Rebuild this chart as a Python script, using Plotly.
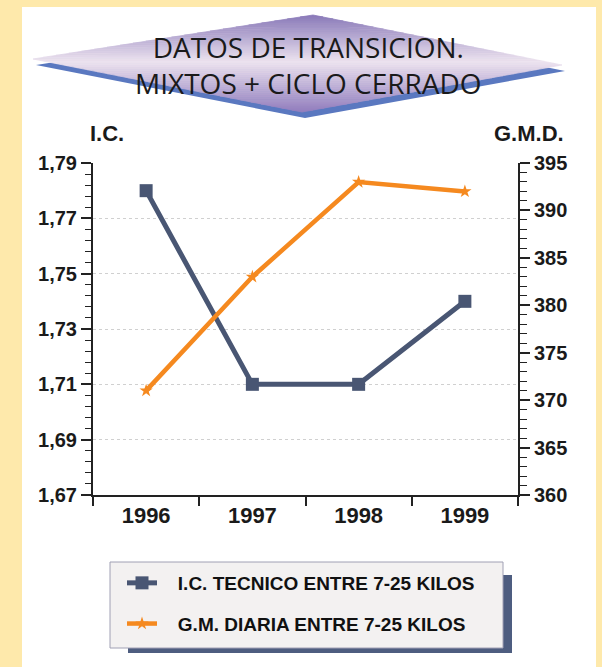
import plotly.graph_objects as go

# ---------------- data ----------------
YEARS = ["1996", "1997", "1998", "1999"]
IC_TECNICO = [1.78, 1.71, 1.71, 1.74]
GM_DIARIA = [371, 383, 393, 392]
IC_TICKS = [1.67, 1.69, 1.71, 1.73, 1.75, 1.77, 1.79]
IC_TICK_LABELS = ["1,67", "1,69", "1,71", "1,73", "1,75", "1,77", "1,79"]
GMD_TICKS = [360, 365, 370, 375, 380, 385, 390, 395]
SERIES_NAMES = ["I.C. TECNICO ENTRE 7-25 KILOS", "G.M. DIARIA ENTRE 7-25 KILOS"]
TITLE_LINES = ["DATOS DE TRANSICION.", "MIXTOS + CICLO CERRADO"]

# ---------------- layout geometry (pixels) ----------------
W, H = 602, 667
L, R, T, B = 93, 518, 163, 495
PW, PH = R - L, B - T


def X(px):
    return (px - L) / PW


def Y(py):
    return (B - py) / PH


def path(points):
    return "M " + " L ".join(f"{X(x):.5f},{Y(y):.5f}" for x, y in points) + " Z"


def clip(poly, ymin, ymax):
    def clip_half(pts, keep, ylim):
        out = []
        n = len(pts)
        for i in range(n):
            p, q = pts[i], pts[(i + 1) % n]
            pin, qin = keep(p[1]), keep(q[1])
            if pin:
                out.append(p)
            if pin != qin:
                t = (ylim - p[1]) / (q[1] - p[1])
                out.append((p[0] + t * (q[0] - p[0]), ylim))
        return out
    pts = clip_half(poly, lambda y: y >= ymin, ymin)
    if not pts:
        return []
    return clip_half(pts, lambda y: y <= ymax, ymax)


def lerp_color(stops, y):
    for (y0, c0), (y1, c1) in zip(stops, stops[1:]):
        if y0 <= y <= y1:
            t = (y - y0) / (y1 - y0)
            c = [round(a + t * (b - a)) for a, b in zip(c0, c1)]
            return f"rgb({c[0]},{c[1]},{c[2]})"
    c = stops[-1][1] if y > stops[-1][0] else stops[0][1]
    return f"rgb({c[0]},{c[1]},{c[2]})"


shapes = []
YELLOW = "#FEE9AB"
# white panel
shapes.append(dict(type="rect", xref="paper", yref="paper", layer="below",
                   x0=X(22), x1=X(596), y0=Y(7), y1=Y(H + 5),
                   fillcolor="white", line=dict(width=0)))

# banner (diamond) with shadow and vertical gradient
diamond = [(33, 59), (313, 15), (562, 65), (302, 112)]
shadow = [(x + 3, y + 6) for x, y in diamond]
shapes.append(dict(type="path", xref="paper", yref="paper", layer="below",
                   path=path(shadow), fillcolor="#5A78C0", line=dict(width=0)))
stops = [(15, (136, 120, 184)), (62, (238, 228, 240)), (112, (146, 126, 190))]
nb = 48
y_top, y_bot = 15, 112
for i in range(nb):
    ya = y_top + (y_bot - y_top) * i / nb
    yb = y_top + (y_bot - y_top) * (i + 1) / nb
    poly = clip(diamond, ya, yb)
    if len(poly) < 3:
        continue
    col = lerp_color(stops, (ya + yb) / 2)
    shapes.append(dict(type="path", xref="paper", yref="paper", layer="below",
                       path=path(poly), fillcolor=col,
                       line=dict(width=0.8, color=col)))

# legend box with shadow
shapes.append(dict(type="rect", xref="paper", yref="paper", layer="below",
                   x0=X(128), x1=X(512), y0=Y(575), y1=Y(653),
                   fillcolor="#4E5D80", line=dict(width=0)))
shapes.append(dict(type="rect", xref="paper", yref="paper", layer="below",
                   x0=X(110), x1=X(503), y0=Y(562), y1=Y(648),
                   fillcolor="#F3F1F1", line=dict(width=1, color="#A0A0B4")))

annotations = [
    dict(text="<br>".join(TITLE_LINES), xref="paper", yref="paper",
         x=X(308), y=Y(65), xanchor="center", yanchor="middle", showarrow=False,
         font=dict(family="Open Sans", size=28, color="#1A1A1A"), align="center"),
    dict(text="<b>I.C.</b>", xref="paper", yref="paper", x=X(107), y=Y(133),
         xanchor="center", yanchor="middle", showarrow=False,
         font=dict(family="Liberation Sans", size=22, color="#1A1A1A")),
    dict(text="<b>G.M.D.</b>", xref="paper", yref="paper", x=X(529), y=Y(133),
         xanchor="center", yanchor="middle", showarrow=False,
         font=dict(family="Liberation Sans", size=22, color="#1A1A1A")),
]

IC_COLOR = "#495673"
GM_COLOR = "#F5891F"
PAD = "\u00a0\u00a0\u00a0"

fig = go.Figure()
fig.add_trace(go.Scatter(
    x=YEARS, y=IC_TECNICO, name=PAD + "<b>" + SERIES_NAMES[0] + "</b>", yaxis="y",
    legendgroup="a", mode="lines+markers", line=dict(color=IC_COLOR, width=5),
    marker=dict(symbol="square", size=13, color=IC_COLOR)))
fig.add_trace(go.Scatter(
    x=YEARS, y=GM_DIARIA, name=PAD + "<b>" + SERIES_NAMES[1] + "</b>", yaxis="y2",
    legendgroup="b", mode="lines+markers", line=dict(color=GM_COLOR, width=4.5),
    marker=dict(symbol="star", size=10, color=GM_COLOR)))

axis_font = dict(family="Liberation Sans", size=20, color="#1A1A1A")
fig.update_layout(
    width=W, height=H,
    margin=dict(l=L, r=W - R, t=T, b=H - B, pad=0),
    paper_bgcolor=YELLOW, plot_bgcolor="white",
    separators=",.",
    showlegend=True,
    legend=dict(x=X(122), y=Y(564), xanchor="left", yanchor="top",
                bgcolor="rgba(0,0,0,0)", borderwidth=0,
                traceorder="grouped", tracegroupgap=13,
                font=dict(family="Liberation Sans", size=19, color="#111111"),
                itemclick=False, itemdoubleclick=False),
    xaxis=dict(type="category", range=[-0.5, 3.5], tickson="boundaries",
               ticks="outside", ticklen=9, tickwidth=1.5, tickcolor="#222",
               showline=True, linecolor="#222", linewidth=2, showgrid=False,
               tickfont=dict(family="Liberation Sans", size=22, color="#1A1A1A"),
               tickprefix="<b>", ticksuffix="</b>", fixedrange=True),
    yaxis=dict(range=[1.67, 1.79], tickmode="array", tickvals=IC_TICKS,
               ticktext=[f"<b>{t}</b>" for t in IC_TICK_LABELS],
               ticks="outside", ticklen=10, tickwidth=1.5, tickcolor="#222",
               showline=True, linecolor="#222", linewidth=2,
               showgrid=True, gridcolor="#D0D0D0", griddash="dot", gridwidth=1,
               zeroline=False, tickfont=axis_font,
               minor=dict(tick0=1.67, dtick=0.004, ticks="outside", ticklen=6,
                          tickwidth=1.2, tickcolor="#222", showgrid=False),
               fixedrange=True),
    yaxis2=dict(range=[360, 395], overlaying="y", side="right",
                tickmode="array", tickvals=GMD_TICKS,
                ticktext=[f"<b>{t}</b>" for t in GMD_TICKS],
                ticks="outside", ticklen=10, tickwidth=1.5, tickcolor="#222",
                showline=True, linecolor="#222", linewidth=2, showgrid=False,
                zeroline=False, tickfont=axis_font,
                minor=dict(tick0=360, dtick=1, ticks="outside", ticklen=7,
                           tickwidth=1.2, tickcolor="#222", showgrid=False),
                fixedrange=True),
    shapes=shapes,
    annotations=annotations,
    hovermode=False,
)

fig.write_html(
    "out.html",
    config={"displayModeBar": False},
    post_script="document.body.style.margin='0';document.body.style.padding='0';",
)
